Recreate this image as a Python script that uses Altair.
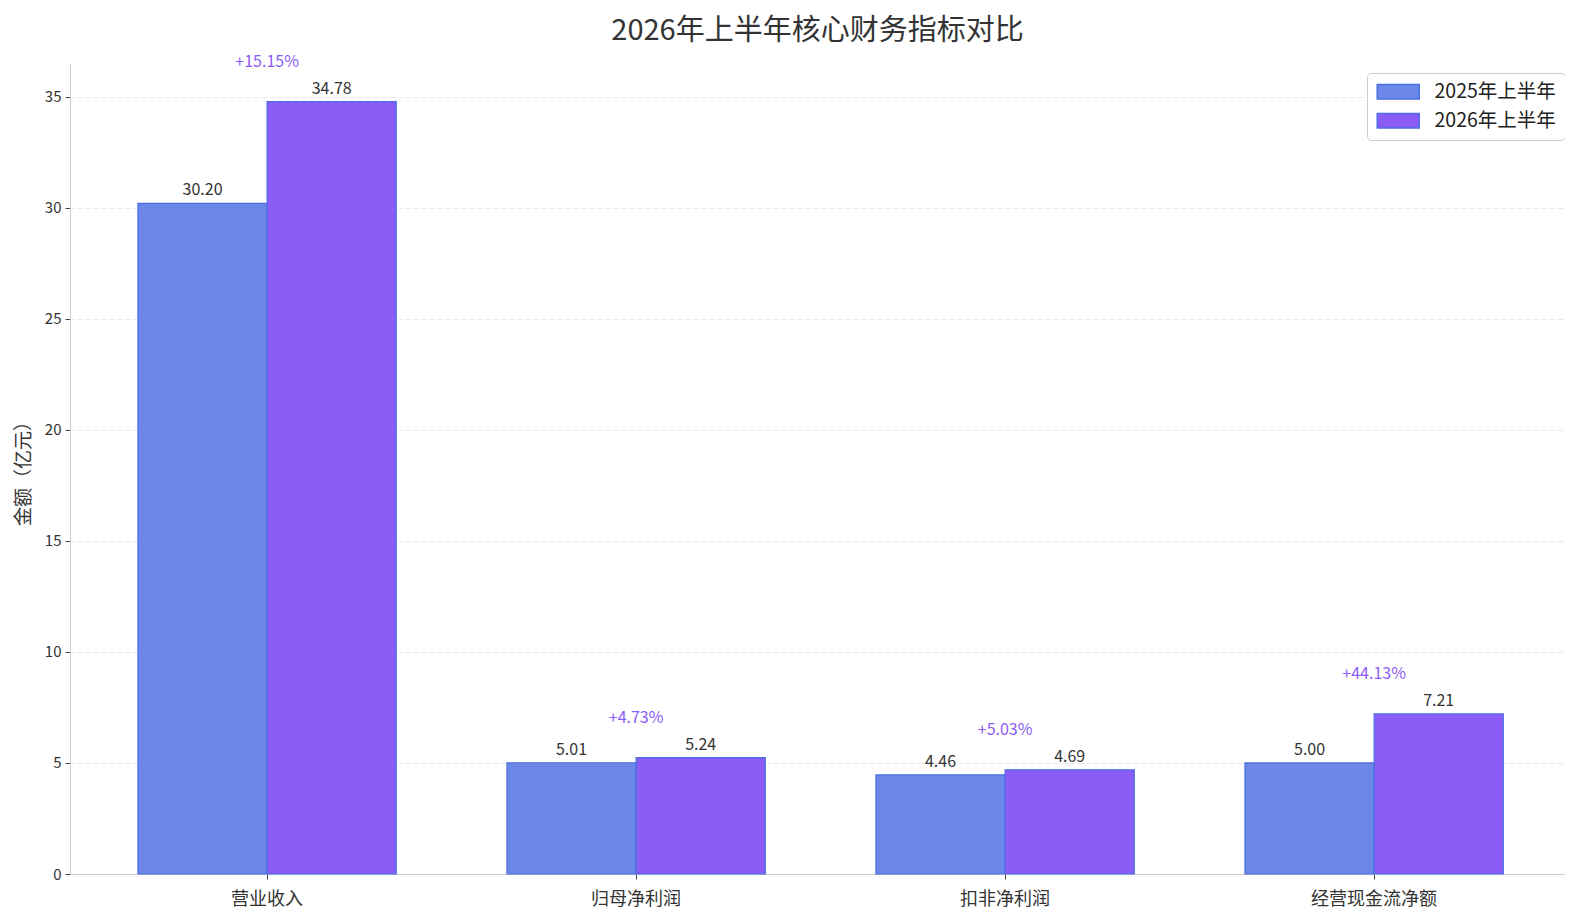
import altair as alt
import pandas as pd

categories = ["营业收入", "归母净利润", "扣非净利润", "经营现金流净额"]
periods = ["2025年上半年", "2026年上半年"]
values_2025 = [30.20, 5.01, 4.46, 5.00]
values_2026 = [34.78, 5.24, 4.69, 7.21]
growth_labels = ["+15.15%", "+4.73%", "+5.03%", "+44.13%"]
y_ticks = [0, 5, 10, 15, 20, 25, 30, 35]

FONT = "Noto Sans CJK SC"
BLUE = "#6b88e8"
PURPLE = "#8b5cf6"
EDGE = "#4a6ee2"

rows = []
for c, a, b in zip(categories, values_2025, values_2026):
    rows.append({"category": c, "period": periods[0], "value": a, "label": f"{a:.2f}"})
    rows.append({"category": c, "period": periods[1], "value": b, "label": f"{b:.2f}"})
df = pd.DataFrame(rows)

gdf = pd.DataFrame({
    "category": categories,
    "ymax": [max(a, b) for a, b in zip(values_2025, values_2026)],
    "glabel": growth_labels,
})

ymax_all = max(values_2025 + values_2026)
y_domain = [0, ymax_all * 1.05]

xscale = alt.Scale(paddingInner=0.3, paddingOuter=0.1757, align=0.524)

xenc = alt.X(
    "category:N", sort=categories, title=None, scale=xscale,
    axis=alt.Axis(labelAngle=0, labelFontSize=18, labelColor="#333333",
                  labelFont=FONT, tickSize=5, tickColor="#444444",
                  domainColor="#cccccc", labelPadding=11, grid=False),
)
yenc = alt.Y(
    "value:Q", title="金额（亿元）",
    scale=alt.Scale(domain=y_domain, nice=False, zero=True),
    axis=alt.Axis(values=y_ticks, labelFontSize=15, labelColor="#333333",
                  labelFont=FONT, tickSize=5, tickColor="#444444",
                  domainColor="#cccccc", grid=True, gridColor="#e8e8e8",
                  gridDash=[5, 3], gridWidth=1, titleFontSize=19,
                  titleFont=FONT, titleColor="#333333", titleFontWeight="normal",
                  titlePadding=11, labelPadding=4),
)

bars = alt.Chart(df).mark_bar(stroke=EDGE, strokeWidth=1.2).encode(
    x=xenc,
    xOffset=alt.XOffset("period:N", sort=periods),
    y=yenc,
    color=alt.Color(
        "period:N", sort=periods, title=None,
        scale=alt.Scale(domain=periods, range=[BLUE, PURPLE]),
        legend=alt.Legend(
            orient="none", legendX=1297, legendY=10,
            labelFontSize=19.5, labelFont=FONT, labelColor="#222222",
            symbolType="M-1,-0.85H3.94V0.85H-1Z", symbolSize=289,
            symbolStrokeColor=EDGE, symbolStrokeWidth=1.5, symbolOpacity=1,
            labelOffset=39, rowPadding=8, padding=9,
            strokeColor="#cccccc", fillColor="#ffffff", cornerRadius=4,
        ),
    ),
)

value_text = alt.Chart(df).mark_text(
    baseline="bottom", dy=-5, fontSize=16, font=FONT, color="#333333"
).encode(
    x=alt.X("category:N", sort=categories, scale=xscale),
    xOffset=alt.XOffset("period:N", sort=periods),
    y=alt.Y("value:Q"),
    text="label:N",
)

growth_text = alt.Chart(gdf).mark_text(
    baseline="middle", dy=-40, fontSize=16, font=FONT, color=PURPLE
).encode(
    x=alt.X("category:N", sort=categories, scale=xscale),
    y=alt.Y("ymax:Q"),
    text="glabel:N",
)

chart = alt.layer(bars, value_text, growth_text).properties(
    width=1495,
    height=811,
    title=alt.TitleParams("2026年上半年核心财务指标对比", fontSize=29, font=FONT,
                          color="#333333", fontWeight="normal", anchor="middle",
                          offset=8),
    autosize=alt.AutoSizeParams(type="none"),
    padding={"left": 62, "top": 55, "right": 0, "bottom": 38},
).configure(background="white").configure_view(strokeWidth=0, stroke=None)

chart.save("out.html", embed_options={"renderer": "svg", "actions": False})
